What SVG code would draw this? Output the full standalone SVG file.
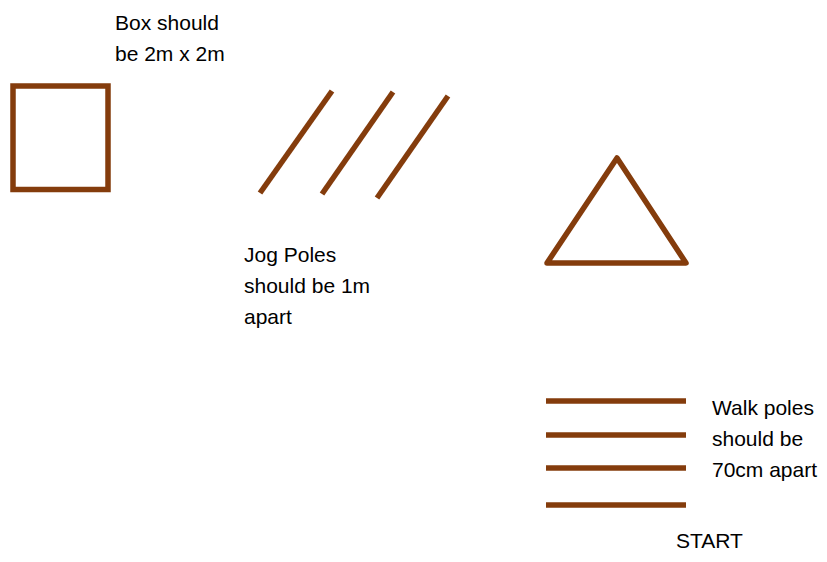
<svg xmlns="http://www.w3.org/2000/svg" width="827" height="562" viewBox="0 0 827 562">
<style>
.p{stroke:#843C0C;stroke-width:5.5;fill:none}
text{font-family:"Liberation Sans",Arial,sans-serif;font-size:21px;fill:#000}
</style>
<rect width="827" height="562" fill="#fff"/>
<g id="box"><rect class="p" x="13" y="86" width="95" height="103.5"/></g>
<g id="box-label"><text x="115" y="30">Box should</text><text x="115" y="61">be 2m x 2m</text></g>
<g id="jog-poles">
<line class="p" x1="260" y1="193" x2="332" y2="91"/>
<line class="p" x1="322" y1="194" x2="393" y2="92"/>
<line class="p" x1="377" y1="198" x2="448" y2="96"/>
</g>
<g id="jog-label"><text x="244" y="262">Jog Poles</text><text x="244" y="293">should be 1m</text><text x="244" y="324">apart</text></g>
<g id="triangle"><polygon class="p" stroke-linejoin="round" points="617,158 686,263 547,263"/></g>
<g id="walk-poles">
<line class="p" x1="546" y1="401" x2="686" y2="401"/>
<line class="p" x1="546" y1="435" x2="686" y2="435"/>
<line class="p" x1="546" y1="468" x2="686" y2="468"/>
<line class="p" x1="546" y1="505" x2="686" y2="505"/>
</g>
<g id="walk-label"><text x="712" y="415">Walk poles</text><text x="712" y="446">should be</text><text x="712" y="477">70cm apart</text></g>
<g id="start"><text x="676" y="548">START</text></g>
<g id="connectors"/>
</svg>
